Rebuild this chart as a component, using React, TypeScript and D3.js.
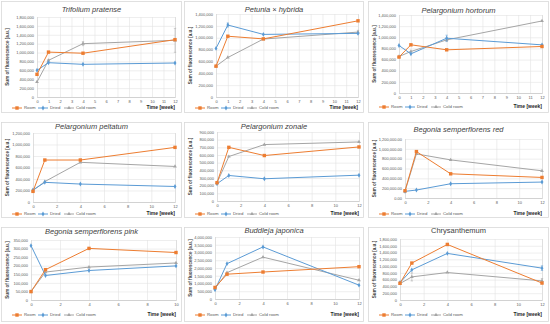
import * as d3 from "d3";
import React from "react";

// data
const titles = [
  "Trifolium pratense",
  "Petunia × hybrida",
  "Pelargonium hortorum",
  "Pelargonium peltatum",
  "Pelargonium zonale",
  "Begonia semperflorens red",
  "Begonia semperflorens pink",
  "Buddleja japonica",
  "Chrysanthemum",
];
const italicTitle = [true, true, true, true, true, true, true, true, false];

const weeks = [0, 1, 4, 12];
const weeksPink = [0, 1, 4, 10];
const xMax = [12, 12, 12, 12, 12, 12, 10, 12, 12];
const xTickStep = [1, 1, 1, 2, 2, 2, 2, 2, 2];

const yMax = [1800000, 1400000, 1400000, 1200000, 900000, 1200000, 350000, 4000000, 1800000];
const yTickStep = [200000, 200000, 200000, 200000, 100000, 200000, 50000, 500000, 200000];
const yDecimals = [0, 0, 0, 0, 0, 2, 0, 0, 0];

const room = [
  [510000, 1010000, 985000, 1290000],
  [520000, 1025000, 980000, 1285000],
  [645000, 865000, 775000, 835000],
  [185000, 730000, 730000, 950000],
  [238000, 700000, 593000, 705000],
  [148000, 944000, 492000, 418000],
  [49000, 177000, 301000, 277000],
  [745000, 1600000, 1740000, 2085000],
  [494000, 1090000, 1640000, 500000],
];
const dried = [
  [600000, 772000, 735000, 765000],
  [820000, 1214000, 1056000, 1073000],
  [852000, 703000, 983000, 864000],
  [210000, 342000, 312000, 270000],
  [225000, 333000, 290000, 337000],
  [135000, 162000, 290000, 324000],
  [317000, 143000, 172000, 199000],
  [596000, 2280000, 3360000, 894000],
  [514000, 890000, 1375000, 940000],
];
const coldRoom = [
  [338000, 825000, 1200000, 1275000],
  [520000, 666000, 977000, 1095000],
  [655000, 745000, 953000, 1293000],
  [200000, 355000, 690000, 618000],
  [238000, 580000, 736000, 770000],
  [135000, 897000, 775000, 553000],
  [49000, 163000, 192000, 216000],
  [681000, 1700000, 2700000, 1210000],
  [485000, 682000, 811000, 564000],
];
// error bars (+/-)
const coldRoomErr = [
  [0, 20000, 45000, 270000],
  [0, 0, 0, 30000],
  [0, 0, 30000, 0],
  [0, 0, 0, 0],
  [0, 0, 0, 0],
  [0, 0, 0, 0],
  [0, 0, 0, 0],
  [0, 0, 0, 0],
  [0, 120000, 0, 70000],
];
const driedErr = [
  [0, 0, 0, 0],
  [0, 35000, 0, 0],
  [0, 0, 55000, 0],
  [0, 0, 0, 0],
  [0, 0, 0, 0],
  [0, 0, 0, 0],
  [0, 0, 0, 0],
  [0, 0, 0, 0],
  [0, 0, 0, 70000],
];

const seriesNames = ["Room", "Dried", "Cold room"];
const seriesColors = ["#ED7D31", "#5B9BD5", "#A5A5A5"];

// layout of each panel (border box, plot area, title and legend rows)
const layout = [
  { box: [1, 1, 181, 112], px: [37, 175], py: [17, 97], ty: 10, ly: 108 },
  { box: [184, 1, 180, 112], px: [216, 358], py: [14, 97], ty: 10, ly: 108 },
  { box: [368, 1, 181, 112], px: [399, 542], py: [15, 93], ty: 11, ly: 107 },
  { box: [1, 122, 181, 96], px: [33, 175], py: [133, 202], ty: 127, ly: 214 },
  { box: [184, 122, 180, 96], px: [217, 359], py: [132, 201], ty: 127, ly: 214 },
  { box: [368, 122, 181, 96], px: [405, 542], py: [139, 198], ty: 130, ly: 214 },
  { box: [1, 227, 181, 95], px: [31, 176], py: [240, 300], ty: 232, ly: 315 },
  { box: [184, 227, 180, 95], px: [215, 359], py: [237, 299], ty: 231, ly: 315 },
  { box: [368, 227, 181, 95], px: [400, 542], py: [239, 300], ty: 231, ly: 315 },
];

const font = "'Liberation Sans', Arial, sans-serif";

function drawMarker(g: any, kind: number, x: number, y: number, color: string) {
  if (kind === 0) {
    g.append("rect")
      .attr("x", x - 1.7)
      .attr("y", y - 1.7)
      .attr("width", 3.4)
      .attr("height", 3.4)
      .attr("fill", color);
  } else if (kind === 1) {
    g.append("path")
      .attr("d", d3.symbol(d3.symbolDiamond, 7)())
      .attr("transform", `translate(${x},${y})`)
      .attr("fill", color);
  } else {
    g.append("path")
      .attr("d", d3.symbol(d3.symbolTriangle, 6)())
      .attr("transform", `translate(${x},${y})`)
      .attr("fill", color);
  }
}

export default function App() {
  const ref = React.useRef<SVGSVGElement>(null);

  React.useEffect(() => {
    if (!ref.current) return;
    const svg = d3.select(ref.current);
    svg.selectAll("*").remove();

    svg.append("rect").attr("width", 550).attr("height", 324).attr("fill", "#fff");

    layout.forEach((lay, i) => {
      const g = svg.append("g");
      const [bx, by, bw, bh] = lay.box;
      g.append("rect")
        .attr("x", bx + 0.5)
        .attr("y", by + 0.5)
        .attr("width", bw - 1)
        .attr("height", bh - 1)
        .attr("fill", "#fff")
        .attr("stroke", "#d9d9d9")
        .attr("stroke-width", 0.8);

      const x = d3.scaleLinear().domain([0, xMax[i]]).range(lay.px);
      const y = d3.scaleLinear().domain([0, yMax[i]]).range([lay.py[1], lay.py[0]]);
      const w = lay.px[1] - lay.px[0];
      const xs = i === 6 ? weeksPink : weeks;

      const fmt = d3.format(yDecimals[i] ? ",.2f" : ",");
      const yTicks = d3.range(0, yMax[i] + 1, yTickStep[i]);
      const xTicks = d3.range(0, xMax[i] + 0.01, xTickStep[i]);

      // y gridlines + labels
      const yAxis = g
        .append("g")
        .attr("transform", `translate(${lay.px[0]},0)`)
        .call(d3.axisLeft(y).tickValues(yTicks).tickSize(-w).tickPadding(3).tickFormat((d: any) => fmt(d)));
      yAxis.select(".domain").remove();
      yAxis.selectAll("line").attr("stroke", "#e3e3e3").attr("stroke-width", 0.6);
      yAxis.selectAll("text").attr("fill", "#595959").attr("font-size", 4).attr("font-family", font);

      // x gridlines + labels
      const xAxis = g
        .append("g")
        .attr("transform", `translate(0,${lay.py[1]})`)
        .call(d3.axisBottom(x).tickValues(xTicks).tickSize(-(lay.py[1] - lay.py[0])).tickPadding(3).tickFormat(d3.format("d")));
      xAxis.select(".domain").attr("stroke", "#bfbfbf").attr("stroke-width", 0.6);
      xAxis.selectAll("line").attr("stroke", "#e3e3e3").attr("stroke-width", 0.6);
      xAxis.selectAll("text").attr("fill", "#595959").attr("font-size", 4).attr("font-family", font);

      // title
      g.append("text")
        .attr("x", bx + bw / 2)
        .attr("y", lay.ty)
        .attr("dominant-baseline", "middle")
        .attr("text-anchor", "middle")
        .attr("font-size", 7.5)
        .attr("font-style", italicTitle[i] ? "italic" : "normal")
        .attr("fill", "#404040")
        .attr("font-family", font)
        .text(titles[i]);

      // y axis title
      const cy = (lay.py[0] + lay.py[1]) / 2;
      g.append("text")
        .attr("transform", `translate(${bx + 7},${cy}) rotate(-90)`)
        .attr("text-anchor", "middle")
        .attr("dominant-baseline", "middle")
        .attr("font-size", 4.6)
        .attr("font-weight", "bold")
        .attr("fill", "#404040")
        .attr("font-family", font)
        .text("Sum of fluorescence [a.u.]");

      // x axis title
      g.append("text")
        .attr("x", lay.px[1])
        .attr("y", lay.ly)
        .attr("text-anchor", "end")
        .attr("dominant-baseline", "middle")
        .attr("font-size", 5)
        .attr("font-weight", "bold")
        .attr("fill", "#262626")
        .attr("font-family", font)
        .text("Time [week]");

      const series = [room[i], dried[i], coldRoom[i]];
      const errs = [null, driedErr[i], coldRoomErr[i]];
      // draw cold room first, room on top
      [2, 1, 0].forEach((s) => {
        const vals = series[s];
        const pts = vals.map((v, k) => [x(xs[k]), y(v)] as [number, number]);
        const err = errs[s];
        if (err) {
          err.forEach((e, k) => {
            if (!e) return;
            const cx = x(xs[k]);
            g.append("path")
              .attr("d", `M${cx},${y(vals[k] - e)}V${y(vals[k] + e)}M${cx - 1.2},${y(vals[k] - e)}H${cx + 1.2}M${cx - 1.2},${y(vals[k] + e)}H${cx + 1.2}`)
              .attr("stroke", seriesColors[s])
              .attr("stroke-width", 0.5)
              .attr("fill", "none");
          });
        }
        g.append("path")
          .attr("d", d3.line()(pts))
          .attr("fill", "none")
          .attr("stroke", seriesColors[s])
          .attr("stroke-width", 1);
        pts.forEach((p) => drawMarker(g, s, p[0], p[1], seriesColors[s]));
      });

      // legend
      const lx0 = bx + 11;
      const offsets = [0, 26, 52];
      seriesNames.forEach((name, s) => {
        const lx = lx0 + offsets[s];
        g.append("line")
          .attr("x1", lx)
          .attr("x2", lx + 10)
          .attr("y1", lay.ly)
          .attr("y2", lay.ly)
          .attr("stroke", seriesColors[s])
          .attr("stroke-width", 1);
        drawMarker(g, s, lx + 5, lay.ly, seriesColors[s]);
        g.append("text")
          .attr("x", lx + 12)
          .attr("y", lay.ly)
          .attr("dominant-baseline", "middle")
          .attr("font-size", 4.3)
          .attr("fill", "#595959")
          .attr("font-family", font)
          .text(name);
      });
    });
  }, []);

  return (
    <svg
      ref={ref}
      width={550}
      height={324}
      style={{ position: "absolute", left: 0, top: 0 }}
    />
  );
}
